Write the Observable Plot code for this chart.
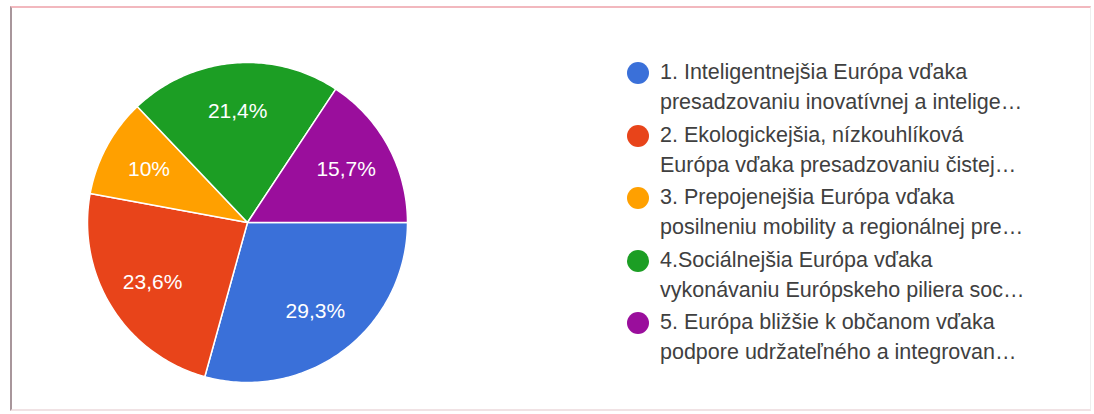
<!DOCTYPE html>
<html>
<head>
<meta charset="utf-8">
<script src="https://cdn.jsdelivr.net/npm/d3@7"></script>
<script src="https://cdn.jsdelivr.net/npm/@observablehq/plot@0.6"></script>
<style>
  html, body { margin: 0; padding: 0; background: #ffffff; }
  #frame { position: relative; width: 1094px; height: 414px; overflow: hidden; background: #fff; }
  #border { position: absolute; left: 10px; top: 6px; width: 1081px; height: 405px;
    border-top: 2px solid #f2b8be; border-left: 2px solid #a8969b;
    border-bottom: 2px solid #f0e2e4; border-right: 1px solid #eeeeee; box-sizing: border-box; }
  #pie { position: absolute; left: 82px; top: 57px; }
  #legend { position: absolute; left: 627px; top: 57px; font-family: "Liberation Sans", Arial, sans-serif;
    font-size: 21.5px; color: #404040; }
  .item { position: relative; padding-left: 33px; line-height: 30px; margin-bottom: 2.5px; white-space: nowrap; }
  .dot { position: absolute; left: 0; top: 5px; width: 22px; height: 22px; border-radius: 50%; }
</style>
</head>
<body>
<div id="frame">
  <div id="border"></div>
  <div id="pie"></div>
  <div id="legend"></div>
</div>
<script>
const categories = ["1", "2", "3", "4", "5"];
const values = [29.3, 23.6, 10, 21.4, 15.7];
const colors = ["#3a70d9", "#e8441a", "#ffa000", "#1c9e24", "#9a0e9c"];
const legendLines = [
  ["1. Inteligentnejšia Európa vďaka", "presadzovaniu inovatívnej a intelige…"],
  ["2. Ekologickejšia, nízkouhlíková", "Európa vďaka presadzovaniu čistej…"],
  ["3. Prepojenejšia Európa vďaka", "posilneniu mobility a regionálnej pre…"],
  ["4.Sociálnejšia Európa vďaka", "vykonávaniu Európskeho piliera soc…"],
  ["5. Európa bližšie k občanom vďaka", "podpore udržateľného a integrovan…"]
];

const fmt = v => String(v).replace(".", ",") + "%";

const arcs = d3.pie().sort(null).startAngle(Math.PI / 2).endAngle(Math.PI / 2 + 2 * Math.PI)(values);

// polygon outline of each slice in unit-circle data coordinates
const slicePts = [];
arcs.forEach((a, i) => {
  const n = Math.max(8, Math.ceil((a.endAngle - a.startAngle) * 60));
  slicePts.push({cat: categories[i], x: 0, y: 0});
  for (let k = 0; k <= n; k++) {
    const t = a.startAngle + (a.endAngle - a.startAngle) * k / n;
    slicePts.push({cat: categories[i], x: Math.sin(t), y: Math.cos(t)});
  }
  slicePts.push({cat: categories[i], x: 0, y: 0});
});

const labelPts = arcs.map((a, i) => {
  const m = (a.startAngle + a.endAngle) / 2;
  return {cat: categories[i], label: fmt(values[i]), x: 0.7 * Math.sin(m), y: 0.7 * Math.cos(m)};
});

const plot = Plot.plot({
  width: 330,
  height: 330,
  margin: 5,
  x: {domain: [-1, 1], axis: null},
  y: {domain: [-1, 1], axis: null},
  color: {domain: categories, range: colors},
  marks: [
    Plot.line(slicePts, {x: "x", y: "y", z: "cat", fill: "cat", stroke: "#ffffff", strokeWidth: 1.5, strokeLinejoin: "round", curve: "linear"}),
    Plot.text(labelPts, {x: "x", y: "y", text: "label", fill: "#ffffff", fontSize: 21, fontFamily: "Liberation Sans, Arial, sans-serif"})
  ]
});
document.getElementById("pie").appendChild(plot);

const legend = document.getElementById("legend");
legendLines.forEach((lines, i) => {
  const item = document.createElement("div");
  item.className = "item";
  const dot = document.createElement("span");
  dot.className = "dot";
  dot.style.background = colors[i];
  item.appendChild(dot);
  lines.forEach(l => {
    const d = document.createElement("div");
    d.textContent = l;
    item.appendChild(d);
  });
  legend.appendChild(item);
});
</script>
</body>
</html>
